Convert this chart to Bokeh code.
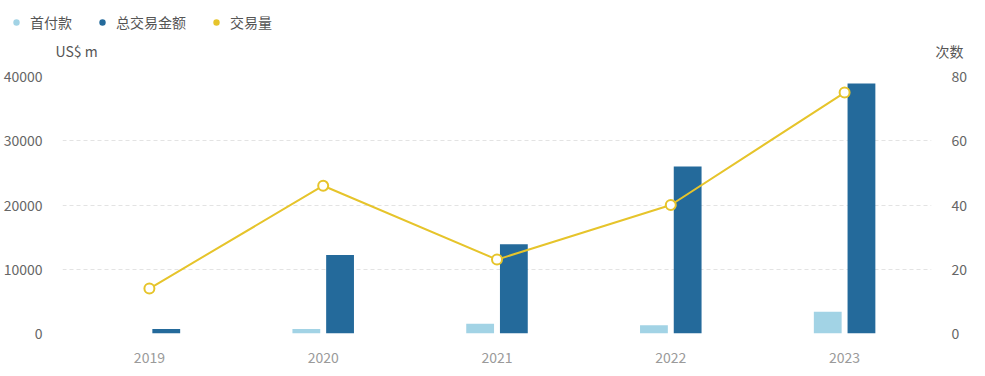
from bokeh.plotting import figure
from bokeh.layouts import column
from bokeh.models import (ColumnDataSource, FactorRange, Range1d, LinearAxis, Legend, LegendItem,
                          Label, SingleIntervalTicker)
from bokeh.transform import dodge
from bokeh.embed import file_html
from bokeh.resources import INLINE

years = ["2019", "2020", "2021", "2022", "2023"]
down_payment = [0, 700, 1500, 1300, 3400]
total_value = [700, 12200, 13900, 26000, 38900]
deal_count = [14, 46, 23, 40, 75]

legend_labels = ["首付款", "总交易金额", "交易量"]
left_unit = "US$ m"
right_unit = "次数"

FONT = "Noto Sans CJK SC"
C_LIGHT = "#a2d3e5"
C_DARK = "#246a9b"
C_LINE = "#e6c42b"
C_TEXT = "#555555"

src = ColumnDataSource(dict(year=years, dp=down_payment, tv=total_value, cnt=deal_count))

# ---------- header strip: legend + unit labels ----------
top = figure(width=985, height=64, x_range=Range1d(0, 1), y_range=Range1d(0, 1),
             output_backend="svg", toolbar_location=None,
             x_axis_location=None, y_axis_location=None,
             min_border_left=0, min_border_right=0, min_border_top=0, min_border_bottom=0)
top.outline_line_color = None
top.grid.visible = False
top.background_fill_color = "white"
top.border_fill_color = "white"

# legend swatches: renderers whose single point lies outside the visible range
g1 = top.scatter(x=[-5], y=[-5], marker="circle", size=9, fill_color=C_LIGHT, line_color=None)
g2 = top.scatter(x=[-5], y=[-5], marker="circle", size=9, fill_color=C_DARK, line_color=None)
g3 = top.scatter(x=[-5], y=[-5], marker="circle", size=9, fill_color=C_LINE, line_color=None)
leg = Legend(items=[LegendItem(label=legend_labels[0], renderers=[g1]),
                    LegendItem(label=legend_labels[1], renderers=[g2]),
                    LegendItem(label=legend_labels[2], renderers=[g3])],
             orientation="horizontal", location=(8, 32), padding=0, margin=0,
             spacing=22, glyph_width=16, glyph_height=20, label_standoff=6,
             label_text_font=FONT, label_text_font_size="14px", label_text_color=C_TEXT,
             border_line_color=None, background_fill_alpha=0)
top.add_layout(leg, "center")
top.add_layout(Label(x=55, y=14, x_units="screen", y_units="screen", text=left_unit,
                     text_font=FONT, text_font_size="14px", text_color=C_TEXT,
                     text_baseline="middle"))
top.add_layout(Label(x=935, y=14, x_units="screen", y_units="screen", text=right_unit,
                     text_font=FONT, text_font_size="14px", text_color=C_TEXT,
                     text_baseline="middle"))

# ---------- main chart ----------
p = figure(width=985, height=312, x_range=FactorRange(*years), y_range=Range1d(0, 40000),
           output_backend="svg", toolbar_location=None,
           min_border_left=59, min_border_right=54, min_border_top=12, min_border_bottom=43)
p.outline_line_color = None
p.background_fill_color = "white"
p.border_fill_color = "white"
p.extra_y_ranges = {"cnt": Range1d(0, 80)}

p.vbar(x=dodge("year", -0.097, range=p.x_range), top="dp", width=0.16, source=src,
       fill_color=C_LIGHT, line_color=None)
p.vbar(x=dodge("year", 0.097, range=p.x_range), top="tv", width=0.16, source=src,
       fill_color=C_DARK, line_color=None)
p.line(x="year", y="cnt", y_range_name="cnt", source=src, line_color=C_LINE, line_width=2)
p.scatter(x="year", y="cnt", y_range_name="cnt", source=src, marker="circle", size=10,
          fill_color="white", line_color=C_LINE, line_width=2)

p.yaxis.ticker = SingleIntervalTicker(interval=10000)
for ax in [p.xaxis[0], p.yaxis[0]]:
    ax.axis_line_color = None
    ax.major_tick_line_color = None
    ax.minor_tick_line_color = None
    ax.major_label_text_font = FONT
    ax.major_label_text_font_size = "14px"
p.yaxis.major_label_text_color = "#666666"
p.yaxis.major_label_standoff = 14
p.xaxis.major_label_text_color = "#9a9a9a"
p.xaxis.major_label_standoff = 12
p.xgrid.grid_line_color = None
p.ygrid.grid_line_color = "#e3e3e3"
p.ygrid.grid_line_dash = "4 3"

ra = LinearAxis(y_range_name="cnt", ticker=SingleIntervalTicker(interval=20))
ra.axis_line_color = None
ra.major_tick_line_color = None
ra.minor_tick_line_color = None
ra.major_label_text_font = FONT
ra.major_label_text_font_size = "14px"
ra.major_label_text_color = "#666666"
ra.major_label_standoff = 14
p.add_layout(ra, "right")

# keep the header's frame independent of the chart's frame
for fig in (top, p):
    if "frame_align" in fig.properties():
        fig.frame_align = False

layout = column(top, p, spacing=0)
open("out.html", "w").write(file_html(layout, INLINE))
